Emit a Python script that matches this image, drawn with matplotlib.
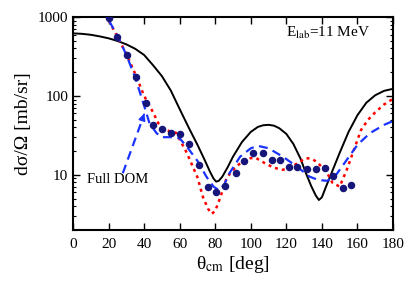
import matplotlib
matplotlib.use("Agg")
import matplotlib.pyplot as plt
from matplotlib.ticker import LogLocator, NullFormatter, FixedLocator

plt.rcParams['font.family'] = ['Liberation Serif', 'DejaVu Serif']
plt.rcParams['mathtext.fontset'] = 'stix'

# experimental data
exp_theta = [20.2, 24.6, 30.5, 35.2, 40.9, 45.2, 49.9, 54.9, 60.2, 65.4, 70.7, 75.7,
             80.4, 85.5, 91.5, 96.2, 101.1, 107.1, 111.7, 116.4, 121.5, 126.2, 131.8,
             136.7, 141.7, 146.1, 151.7, 156.4]
exp_xs = [960, 563, 330, 175, 82, 43, 37.8, 34.3, 33, 24.5, 13.4, 7.1,
          6.0, 7.3, 10.5, 15.0, 18.8, 18.8, 15.2, 15.5, 12.5, 12.7, 12.0,
          12.0, 12.2, 9.7, 6.9, 7.5]

# black solid curve
blk_theta = [0, 5, 10, 15, 20, 25, 30, 35, 40, 45, 50, 55, 60, 65, 70, 74, 77, 79, 80.5, 82,
             84, 87, 90, 95, 100, 104, 107, 110, 113, 116, 120, 124, 128, 131, 134, 136.5,
             138.3, 140, 142, 145, 150, 155, 160, 165, 170, 175, 180]
blk_xs = [620, 612, 595, 568, 537, 497, 450, 395, 330, 245, 178, 117, 68, 40, 24, 15.5, 11,
          9, 8.2, 8.4, 9.5, 12.5, 17, 26, 35, 40.5, 42.5, 43, 42, 39, 33, 24.5, 16, 10.5,
          7.2, 5.5, 4.8, 5.2, 6.8, 10, 19, 35, 57, 82, 102, 116, 123]

# red dotted curve
red_theta = [17, 19, 25, 30, 35, 40, 45, 48, 52, 58, 64, 70, 73, 76, 78, 80, 83, 86, 89, 92, 96,
             100, 103, 108, 113, 118, 122, 126, 131, 134, 137, 140, 143, 146, 150, 154, 158,
             162, 166, 170, 175, 180]
red_xs = [1300, 1000, 560, 340, 190, 100, 62, 45, 37, 34, 19, 9.3, 5.3, 3.7, 3.2, 3.5, 5.3, 8.6,
          11, 12.7, 15.5, 16.3, 16.3, 14, 12.3, 11.6, 12, 14, 16.3, 16, 14.7, 12.5, 10.5, 7.9,
          7.1, 11.6, 20.7, 37, 50, 62, 78, 92]

# blue dashed curve (Full DOM)
blu_theta = [17, 19, 25, 30, 35, 40, 43, 47, 50, 56, 60, 64, 70, 75, 79, 82, 85, 88, 94, 100, 104,
             110, 118, 126, 133, 138, 143, 148, 154, 160, 167, 175, 180]
blu_xs = [1300, 1000, 580, 330, 170, 75, 45, 33.7, 30, 30, 29, 22.8, 15, 9.5, 7.1, 6.4, 7.5, 10.5,
          17, 21.7, 23.3, 21.7, 17, 12.7, 9.5, 8.6, 8.4, 10, 15.5, 24, 33.7, 43, 48]

x_ticks = [0, 20, 40, 60, 80, 100, 120, 140, 160, 180]
y_ticks = [10, 100, 1000]

fig = plt.figure(figsize=(4.15, 2.91), dpi=100)
ax = fig.add_axes([0.176, 0.2096, 0.771, 0.732])

ax.plot(blk_theta, blk_xs, color='black', lw=1.4, solid_joinstyle='round')
ax.plot(red_theta, red_xs, color='red', lw=1.8, linestyle=(0, (1.2, 1.6)))
ax.plot(blu_theta, blu_xs, color='#1a33ff', lw=1.6, linestyle=(0, (4, 2.5)))
ax.plot(exp_theta, exp_xs, 'o', color='#16167a', markersize=4.4, zorder=5)

# annotation arrow for Full DOM
ax.plot([28, 39.6], [10.5, 55], color='#1a33ff', lw=1.6, linestyle=(0, (4, 2.5)))
ax.annotate('', xy=(40.6, 65), xytext=(39.4, 54),
            arrowprops=dict(arrowstyle='-|>', color='#1a33ff', lw=1.2, mutation_scale=10))
ax.text(8, 8.7, 'Full DOM', fontsize=10.5, va='center', ha='left')
ax.text(120, 620, r'E$_{\rm lab}$=11 MeV', fontsize=11, va='center', ha='left')

ax.set_yscale('log')
ax.set_xlim(0, 180)
ax.set_ylim(2, 1000)
ax.xaxis.set_major_locator(FixedLocator(x_ticks))
ax.yaxis.set_major_locator(FixedLocator(y_ticks))
ax.set_yticklabels([str(v) for v in y_ticks])
ax.set_xticklabels([str(v) for v in x_ticks])
ax.yaxis.set_minor_locator(LogLocator(base=10, subs=range(2, 10)))
ax.yaxis.set_minor_formatter(NullFormatter())
ax.tick_params(which='both', direction='in', top=True, right=True, labelsize=11)
ax.tick_params(which='major', length=5, width=1.0)
ax.tick_params(which='minor', length=2.5, width=0.8)
ax.tick_params(axis='x', pad=6)
for s in ax.spines.values():
    s.set_linewidth(1.5)

ax.set_xlabel('θ$_{\\rm cm}$ [deg]', fontsize=14, labelpad=2)
ax.set_ylabel('dσ/Ω [mb/sr]', fontsize=14, labelpad=4)

fig.savefig('out.png', dpi=100)
